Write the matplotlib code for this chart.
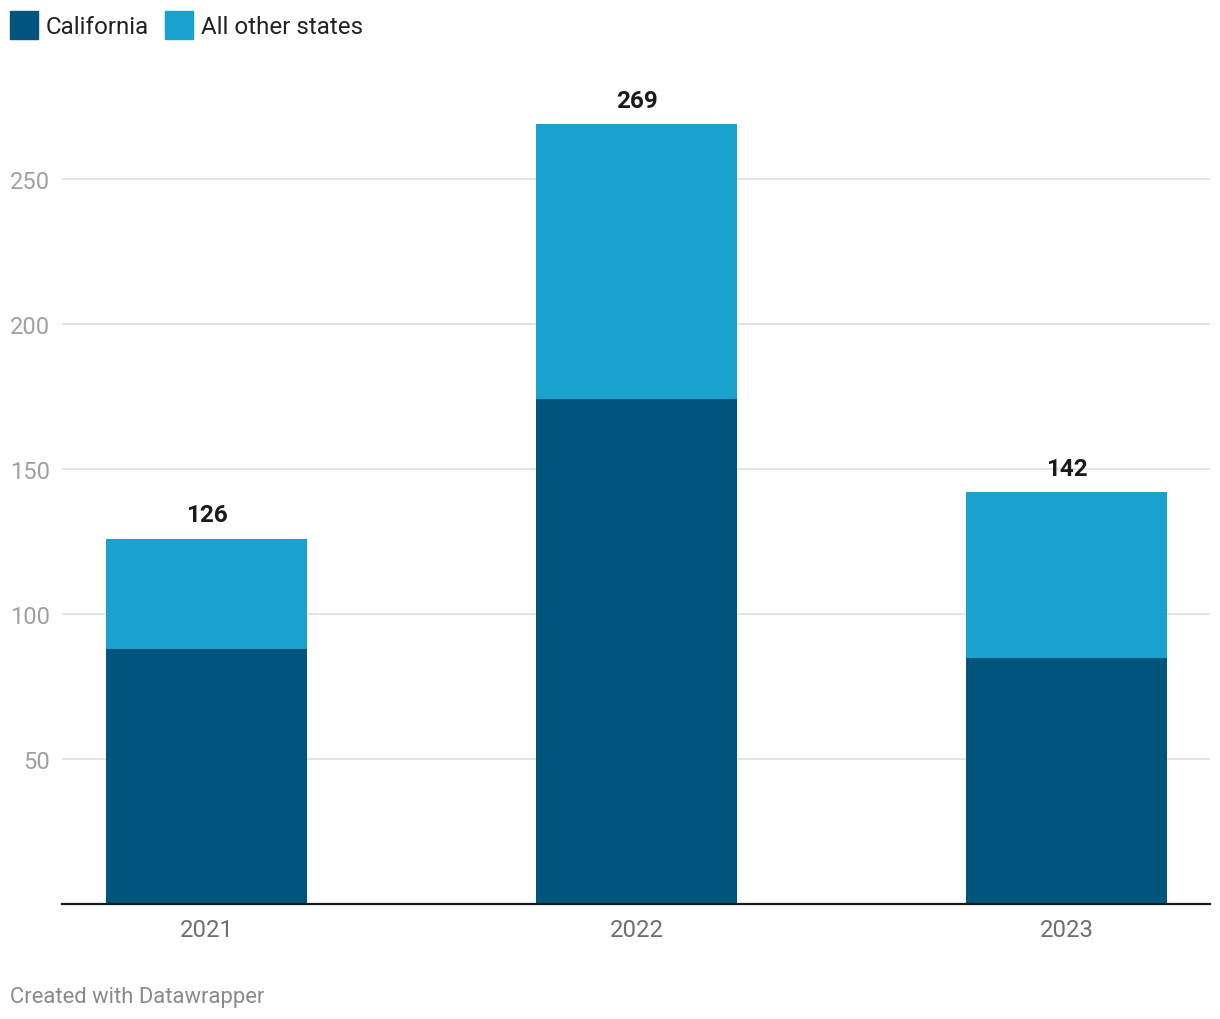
import matplotlib
matplotlib.use("Agg")
import matplotlib.pyplot as plt
from matplotlib.patches import Rectangle

years = ["2021", "2022", "2023"]
california = [88, 174, 85]
others = [38, 95, 57]
totals = [126, 269, 142]
yticks = [50, 100, 150, 200, 250]
series_names = ["California", "All other states"]
colors = ["#01547b", "#1aa2cf"]

plt.rcParams["font.family"] = ["Roboto", "DejaVu Sans"]

W, H = 1220, 1020
fig = plt.figure(figsize=(W / 100, H / 100), dpi=100)
left, right, bottom = 62, 1210, 905
ymax = 280
ppu = 2.9
top = bottom - ymax * ppu
ax = fig.add_axes([left / W, 1 - bottom / H, (right - left) / W, (bottom - top) / H])

x = list(range(len(years)))
spacing = 430
ax.set_xlim(0 - (206.5 - left) / spacing, 2 + (right - 1066.5) / spacing)
ax.set_ylim(0, ymax)
bw = 201 / spacing
ax.bar(x, california, width=bw, color=colors[0], zorder=3)
ax.bar(x, others, width=bw, bottom=california, color=colors[1], zorder=3)

for xi, t in zip(x, totals):
    ax.annotate(str(t), (xi, t), xytext=(0, 17), textcoords="offset points",
                ha="center", va="center", fontsize=17.5, fontweight="bold", color="#1a1a1a")

ax.set_yticks(yticks)
ax.set_yticklabels([str(v) for v in yticks])
ax.tick_params(axis="y", length=0, pad=8.6, labelsize=17, labelcolor="#a0a0a0")
ax.set_xticks(x)
ax.set_xticklabels(years)
ax.tick_params(axis="x", length=0, pad=10, labelsize=17.2, labelcolor="#6e6e6e")
ax.grid(axis="y", color="#e2e2e2", linewidth=1.3, zorder=0)
for s in ["top", "right", "left"]:
    ax.spines[s].set_visible(False)
ax.spines["bottom"].set_color("#1a1a1a")
ax.spines["bottom"].set_linewidth(1.6)
ax.spines["bottom"].set_zorder(4)

# legend
for name, c, tx in zip(series_names, colors, [46, 201]):
    sq_x = tx - 36
    fig.patches.append(Rectangle((sq_x / W, 1 - 40 / H), 28 / W, 28 / H,
                                 transform=fig.transFigure, color=c))
    fig.text(tx / W, 1 - 27 / H, name, ha="left", va="center",
             fontsize=17.4, color="#222222")

fig.text(10 / W, 1 - 998 / H, "Created with Datawrapper", ha="left", va="center",
         fontsize=15.8, color="#8a8a8a")

fig.savefig("out.png", dpi=100, facecolor="white")
